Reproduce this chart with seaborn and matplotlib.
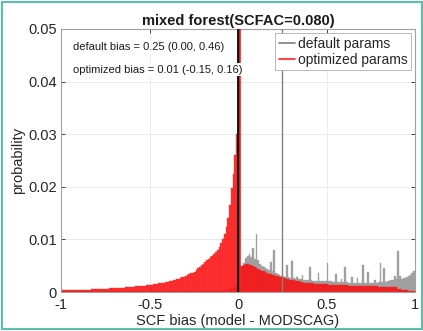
import numpy as np
import pandas as pd
import matplotlib
matplotlib.use("Agg")
import matplotlib.pyplot as plt
from matplotlib.lines import Line2D
from matplotlib.patches import Rectangle
import seaborn as sns

# ---- data: probability per 0.01-wide bin of SCF bias, from -1 to 1 ----
bin_width = 0.01
bin_range = (-1.0, 1.0)
bin_centers = np.round(np.arange(-0.995, 1.0, bin_width), 4)

# optimized parameters, bins -1.00 .. 0.00
optimized_neg = [
    0.00030, 0.00031, 0.00032, 0.00033, 0.00034, 0.00035, 0.00036, 0.00037, 0.00038, 0.00039,
    0.00040, 0.00041, 0.00042, 0.00043, 0.00044, 0.00045, 0.00047, 0.00048, 0.00050, 0.00051,
    0.00053, 0.00055, 0.00057, 0.00059, 0.00061, 0.00063, 0.00065, 0.00067, 0.00069, 0.00071,
    0.00073, 0.00075, 0.00077, 0.00079, 0.00081, 0.00084, 0.00087, 0.00090, 0.00093, 0.00096,
    0.00099, 0.00102, 0.00105, 0.00108, 0.00111, 0.00115, 0.00119, 0.00123, 0.00127, 0.00132,
    0.00137, 0.00142, 0.00147, 0.00152, 0.00157, 0.00162, 0.00168, 0.00174, 0.00180, 0.00187,
    0.00194, 0.00202, 0.00211, 0.00220, 0.00230, 0.00241, 0.00252, 0.00264, 0.00277, 0.00290,
    0.00304, 0.00319, 0.00335, 0.00352, 0.00370, 0.00389, 0.00420, 0.00450, 0.00480, 0.00510,
    0.00540, 0.00570, 0.00600, 0.00630, 0.00660, 0.00690, 0.00720, 0.00760, 0.00800, 0.00860,
    0.00930, 0.01000, 0.01100, 0.01230, 0.01400, 0.01650, 0.01980, 0.02250, 0.02600, 0.03000,
]
# optimized parameters, bins 0.00 .. 1.00
optimized_pos = [
    0.0048, 0.0049, 0.0050, 0.0051, 0.0053, 0.0053, 0.0052, 0.0051, 0.0049, 0.0047,
    0.0045, 0.0043, 0.0042, 0.0040, 0.0039, 0.0038, 0.0036, 0.0035, 0.0034, 0.0033,
    0.0032, 0.0031, 0.0030, 0.0029, 0.0028, 0.0027, 0.0026, 0.0025, 0.0024, 0.0023,
    0.0023, 0.0022, 0.0021, 0.0020, 0.0020, 0.0019, 0.0019, 0.0018, 0.0018, 0.0018,
    0.0017, 0.0017, 0.0017, 0.0016, 0.0016, 0.0016, 0.0016, 0.0015, 0.0015, 0.0015,
    0.0015, 0.0014, 0.0014, 0.0014, 0.0014, 0.0014, 0.0013, 0.0013, 0.0013, 0.0013,
    0.0013, 0.0013, 0.0012, 0.0012, 0.0012, 0.0012, 0.0012, 0.0012, 0.0012, 0.0012,
    0.0011, 0.0011, 0.0011, 0.0011, 0.0011, 0.0011, 0.0011, 0.0011, 0.0011, 0.0010,
    0.0010, 0.0010, 0.0010, 0.0010, 0.0010, 0.0010, 0.0010, 0.0009, 0.0009, 0.0009,
    0.0006, 0.0005, 0.0004, 0.0004, 0.0003, 0.0003, 0.0002, 0.0002, 0.0001, 0.0001,
]
# default parameters, bins -1.00 .. 0.00
default_neg = [0.0001] * 90 + [
    0.0002, 0.0002, 0.0003, 0.0003, 0.0004, 0.0005, 0.0006, 0.0008, 0.0010, 0.0015,
]
# default parameters, bins 0.00 .. 1.00
default_pos = [
    0.0040, 0.0045, 0.0050, 0.0056, 0.0064, 0.0068, 0.0072, 0.0066, 0.0083, 0.0063,
    0.0111, 0.0060, 0.0054, 0.0050, 0.0047, 0.0045, 0.0043, 0.0041, 0.0057, 0.0039,
    0.0079, 0.0036, 0.0034, 0.0032, 0.0031, 0.0030, 0.0029, 0.0052, 0.0028, 0.0027,
    0.0058, 0.0026, 0.0025, 0.0029, 0.0024, 0.0024, 0.0033, 0.0023, 0.0023, 0.0022,
    0.0047, 0.0022, 0.0021, 0.0021, 0.0021, 0.0036, 0.0021, 0.0020, 0.0020, 0.0020,
    0.0055, 0.0020, 0.0020, 0.0019, 0.0019, 0.0035, 0.0019, 0.0019, 0.0025, 0.0019,
    0.0047, 0.0019, 0.0018, 0.0018, 0.0029, 0.0018, 0.0018, 0.0026, 0.0018, 0.0018,
    0.0051, 0.0018, 0.0018, 0.0038, 0.0018, 0.0018, 0.0018, 0.0023, 0.0018, 0.0019,
    0.0056, 0.0019, 0.0045, 0.0019, 0.0020, 0.0021, 0.0022, 0.0023, 0.0030, 0.0024,
    0.0078, 0.0030, 0.0025, 0.0026, 0.0027, 0.0028, 0.0030, 0.0033, 0.0036, 0.0039,
]

# summary statistics: median (25th, 75th percentile)
default_stats = (0.25, 0.00, 0.46)
optimized_stats = (0.01, -0.15, 0.16)

series_labels = ["default params", "optimized params"]
title = "mixed forest(SCFAC=0.080)"
x_ticks = [-1, -0.5, 0, 0.5, 1]
x_tick_labels = ["-1", "-0.5", "0", "0.5", "1"]
y_ticks = [0, 0.01, 0.02, 0.03, 0.04, 0.05]
y_tick_labels = ["0", "0.01", "0.02", "0.03", "0.04", "0.05"]

hist = pd.DataFrame({
    "bias": bin_centers,
    "default": default_neg + default_pos,
    "optimized": optimized_neg + optimized_pos,
})

sns.set_theme(style="whitegrid")
plt.rcParams["font.family"] = ["Liberation Sans", "DejaVu Sans"]

fig = plt.figure(figsize=(4.23, 3.31), dpi=100)
fig.patch.set_facecolor("white")
ax = fig.add_axes([61 / 423, 1 - 292 / 331, (415 - 61) / 423, (292 - 29) / 331])

grey = "#a0a0a0"
red = "#ff0000"
sns.histplot(data=hist, x="bias", weights="default", binwidth=bin_width,
             binrange=bin_range, color=grey, alpha=1.0,
             linewidth=0.25, edgecolor=grey, ax=ax)
sns.histplot(data=hist, x="bias", weights="optimized", binwidth=bin_width,
             binrange=bin_range, color=red, alpha=0.8,
             linewidth=0.25, edgecolor="#f52a2a", ax=ax)

# zero line and median markers
ax.axvline(0, color="black", lw=2.0, zorder=3)
ax.axvline(optimized_stats[0], color="#ff2020", lw=1.2, zorder=3)
ax.axvline(default_stats[0], color="#808080", lw=1.0, zorder=3)

ax.set_xlim(-1, 1)
ax.set_ylim(0, 0.05)
ax.set_xticks(x_ticks)
ax.set_xticklabels(x_tick_labels)
ax.set_yticks(y_ticks)
ax.set_yticklabels(y_tick_labels)
ax.grid(True, color="#e8e8e8", lw=0.6)
ax.set_axisbelow(True)
ax.tick_params(direction="in", length=3, width=0.6, top=True, right=True,
               bottom=True, left=True, labelsize=10.5, colors="#262626")
ax.tick_params(axis="x", pad=4)
ax.tick_params(axis="y", pad=3)
for side in ax.spines.values():
    side.set_visible(True)
    side.set_color("#a0a0a0")
    side.set_linewidth(0.8)

ax.set_title(title, fontsize=10.5, fontweight="bold", pad=3, color="#1a1a1a")
ax.set_xlabel("SCF bias (model - MODSCAG)", fontsize=10.5, labelpad=2, color="#262626")
ax.set_ylabel("probability", fontsize=10.5, labelpad=2, color="#262626")

box = dict(facecolor="white", edgecolor="none", pad=1.0)
ax.text(0.034, 0.93,
        "default bias = {:.2f} ({:.2f}, {:.2f})".format(*default_stats),
        transform=ax.transAxes, fontsize=8.0, va="center", ha="left",
        color="#1a1a1a", bbox=box, zorder=5)
ax.text(0.034, 0.845,
        "optimized bias = {:.2f} ({:.2f}, {:.2f})".format(*optimized_stats),
        transform=ax.transAxes, fontsize=8.0, va="center", ha="left",
        color="#1a1a1a", bbox=box, zorder=5)

handles = [Line2D([], [], color="#808080", lw=1.2),
           Line2D([], [], color="#ff2020", lw=1.2)]
leg = ax.legend(handles, series_labels, loc="upper right", fontsize=10,
                frameon=True, fancybox=False, framealpha=1, edgecolor="#b0b0b0",
                handlelength=1.15, handletextpad=0.2, borderpad=0.25,
                labelspacing=0.15, borderaxespad=0.3)
leg.get_frame().set_linewidth(0.6)
leg.set_zorder(6)

fig.patches.append(Rectangle((2 / 423, 2 / 331), 419.5 / 423, 327 / 331,
                             transform=fig.transFigure, fill=False,
                             edgecolor="#5bbfae", lw=1.5))

fig.savefig("out.png", dpi=100, facecolor="white")
